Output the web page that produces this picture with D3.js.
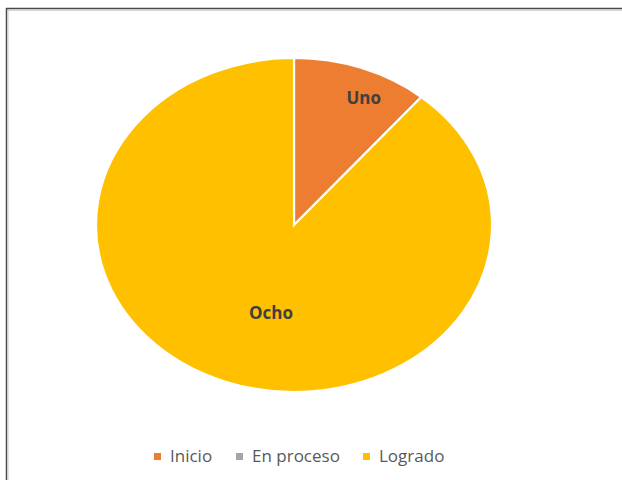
<!DOCTYPE html>
<html><head><meta charset="utf-8">
<script src="https://cdn.jsdelivr.net/npm/d3@7"></script>
<style>body{margin:0;background:#fff}svg{display:block}</style>
</head><body>
<svg id="c" width="622" height="480"></svg>
<script>
const categories = ["Inicio", "En proceso", "Logrado"];
const values = [1, 0, 8];
const sliceLabels = ["Uno", "", "Ocho"];
const colors = ["#ED7D31", "#A5A5A5", "#FFC000"];

const svg = d3.select("#c");
// frame
svg.append("line").attr("x1",6).attr("x2",622).attr("y1",8.5).attr("y2",8.5).attr("stroke","#4a4a4a").attr("stroke-width",1.5);
svg.append("line").attr("x1",6).attr("x2",622).attr("y1",10).attr("y2",10).attr("stroke","#c8c8c8").attr("stroke-width",1.5);
svg.append("line").attr("x1",6.5).attr("x2",6.5).attr("y1",8).attr("y2",480).attr("stroke","#4a4a4a").attr("stroke-width",1.5);
svg.append("line").attr("x1",8).attr("x2",8).attr("y1",10).attr("y2",480).attr("stroke","#c8c8c8").attr("stroke-width",1);

const cx = 294, cy = 225, rx = 198, ry = 167, r = 100;
const pie = d3.pie().sort(null).value(d => d.v);
const arcs = pie(categories.map((c,i) => ({c, v: values[i], i})));
const arc = d3.arc().innerRadius(0).outerRadius(r);
const g = svg.append("g").attr("transform", `translate(${cx},${cy}) scale(${rx/r},${ry/r})`);
g.selectAll("path").data(arcs.filter(d => d.data.v > 0)).join("path")
  .attr("d", arc).attr("fill", d => colors[d.data.i])
  .attr("stroke", "#fff").attr("stroke-width", 2.2).attr("vector-effect","non-scaling-stroke");

// label placement factors (horizontal, vertical) along each slice's mid-angle
const labelFx = [1.03, 0, 0.34];
const labelFy = [0.81, 0, 0.56];
const lt = svg.append("g");
arcs.filter(d => d.data.v > 0).forEach(d => {
  const i = d.data.i;
  const mid = (d.startAngle + d.endAngle) / 2;
  const x = cx + Math.sin(mid) * rx * labelFx[i];
  const y = cy - Math.cos(mid) * ry * labelFy[i];
  lt.append("text").attr("x", x).attr("y", y).attr("text-anchor","middle").attr("dominant-baseline","central")
    .attr("font-family","'Open Sans', 'Liberation Sans', sans-serif").attr("font-weight","bold").attr("font-size",17)
    .attr("fill","#404040").text(sliceLabels[i]);
});

// legend
const legX = [154, 236, 363];
const leg = svg.append("g");
categories.forEach((c,i) => {
  leg.append("rect").attr("x", legX[i]).attr("y", 453).attr("width", 7).attr("height", 7).attr("fill", colors[i]);
  leg.append("text").attr("x", legX[i] + 16).attr("y", 462)
    .attr("font-family","'Open Sans', 'Liberation Sans', sans-serif").attr("font-size",17).attr("fill","#595959").text(c);
});
</script>
</body></html>
